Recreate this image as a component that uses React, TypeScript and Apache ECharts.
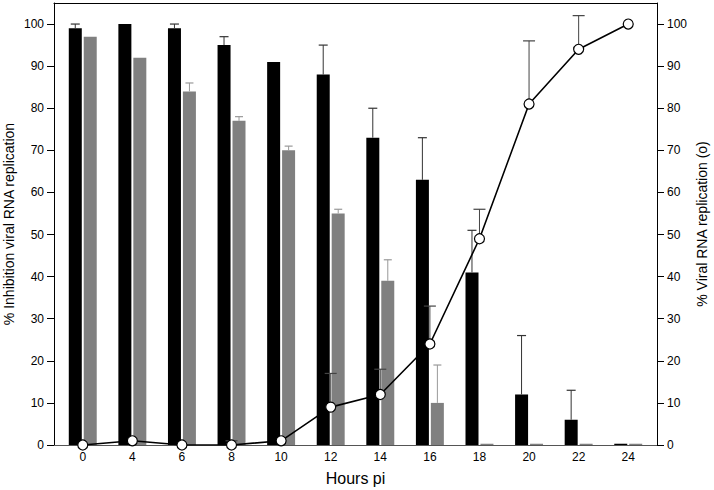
import React, { useEffect, useRef } from "react";
import * as echarts from "echarts";

const hours = ["0", "4", "6", "8", "10", "12", "14", "16", "18", "20", "22", "24"];
// % inhibition (left axis) – black bars
const inhibitionA = [99, 100, 99, 95, 91, 88, 73, 63, 41, 12, 6, 0.3];
const inhibitionAErrTop = [100, null, 100, 97, null, 95, 80, 73, 51, 26, 13, null];
// % inhibition (left axis) – gray bars
const inhibitionB = [97, 92, 84, 77, 70, 55, 39, 10, 0.3, 0.3, 0.3, 0.3];
const inhibitionBErrTop = [null, null, 86, 78, 71, 56, 44, 19, null, null, null, null];
// % viral RNA replication (right axis) – line with open circles
const replication = [0, 1, 0, 0, 1, 9, 12, 24, 49, 81, 94, 100];
const replicationErrTop = [null, null, null, 1, null, 17, 18, 33, 56, 96, 102, null];
const yTicks = [0, 10, 20, 30, 40, 50, 60, 70, 80, 90, 100];

const FONT = "Liberation Sans, Arial, sans-serif";

function errData(vals: number[], tops: (number | null)[]) {
  const out: number[][] = [];
  vals.forEach((v, i) => {
    const t = tops[i];
    if (t != null) out.push([i, v, t]);
  });
  return out;
}

function makeErrRender(offset: number, cap: number, color: string) {
  return (params: any, api: any) => {
    const x = api.value(0);
    const v = api.value(1);
    const t = api.value(2);
    const p0 = api.coord([x, v]);
    const p1 = api.coord([x, t]);
    const cx = p0[0] + offset;
    return {
      type: "group",
      children: [
        {
          type: "line",
          shape: { x1: cx, y1: p0[1], x2: cx, y2: p1[1] },
          style: { stroke: color, lineWidth: 1 },
        },
        {
          type: "line",
          shape: { x1: cx - cap / 2, y1: p1[1], x2: cx + cap / 2, y2: p1[1] },
          style: { stroke: color, lineWidth: 1.2 },
        },
      ],
    };
  };
}

export default function App() {
  const ref = useRef<HTMLDivElement>(null);

  useEffect(() => {
    if (!ref.current) return;
    const chart = echarts.init(ref.current, undefined, { renderer: "svg" });
    const idx = hours.map((_, i) => i);

    const yAxisCommon = {
      type: "value",
      min: 0,
      max: 105,
      splitLine: { show: false },
      axisLine: { show: true, onZero: false, lineStyle: { color: "#000", width: 1 } },
      axisTick: { show: true, length: 7, customValues: yTicks, lineStyle: { color: "#000" } },
      axisLabel: { customValues: yTicks, color: "#000", fontSize: 12, fontFamily: FONT, margin: 10 },
      nameLocation: "middle",
      nameRotate: 90,
      nameMoveOverlap: false,
      nameTextStyle: { color: "#000", fontSize: 14, fontFamily: FONT },
    };

    chart.setOption({
      animation: false,
      backgroundColor: "#fff",
      grid: { left: 54, right: 57, top: 3, bottom: 45, containLabel: false, outerBoundsMode: "none" },
      xAxis: [
        {
          type: "value",
          min: -0.58,
          max: 11.58,
          splitLine: { show: false },
          axisLine: { show: true, onZero: false, lineStyle: { color: "#555", width: 1 } },
          axisTick: { show: false },
          axisLabel: {
            customValues: idx,
            formatter: (v: number) => hours[Math.round(v)] ?? "",
            color: "#000",
            fontSize: 12,
            fontFamily: FONT,
            margin: 6,
          },
          name: "Hours pi",
          nameLocation: "middle",
          nameGap: 25,
          nameMoveOverlap: false,
          nameTextStyle: { color: "#000", fontSize: 16, fontFamily: FONT },
        },
        {
          type: "value",
          position: "top",
          min: -0.58,
          max: 11.58,
          splitLine: { show: false },
          axisLine: { show: true, onZero: false, lineStyle: { color: "#000", width: 1 } },
          axisTick: { show: false },
          axisLabel: { show: false },
        },
      ],
      yAxis: [
        { ...yAxisCommon, position: "left", nameGap: 38, name: "% Inhibition viral RNA replication" },
        { ...yAxisCommon, position: "right", nameGap: 38, name: "% Viral RNA replication (o)" },
      ],
      series: [
        {
          type: "bar",
          xAxisIndex: 0,
          yAxisIndex: 0,
          data: inhibitionA.map((v, i) => [i, v]),
          barWidth: 13,
          barGap: "15%",
          itemStyle: { color: "#000" },
          z: 2,
        },
        {
          type: "bar",
          xAxisIndex: 0,
          yAxisIndex: 0,
          data: inhibitionB.map((v, i) => [i, v]),
          barWidth: 13,
          barGap: "15%",
          itemStyle: { color: "#808080" },
          z: 2,
        },
        {
          type: "custom",
          xAxisIndex: 0,
          yAxisIndex: 0,
          data: errData(inhibitionA, inhibitionAErrTop),
          renderItem: makeErrRender(-7.5, 9, "#333"),
          z: 3,
          silent: true,
        },
        {
          type: "custom",
          xAxisIndex: 0,
          yAxisIndex: 0,
          data: errData(inhibitionB, inhibitionBErrTop),
          renderItem: makeErrRender(7.5, 8, "#999"),
          z: 3,
          silent: true,
        },
        {
          type: "custom",
          xAxisIndex: 0,
          yAxisIndex: 1,
          data: errData(replication, replicationErrTop),
          renderItem: makeErrRender(0, 12, "#444"),
          z: 4,
          silent: true,
        },
        {
          type: "line",
          xAxisIndex: 0,
          yAxisIndex: 1,
          data: replication.map((v, i) => [i, v]),
          symbol: "circle",
          symbolSize: 10,
          showAllSymbol: true,
          lineStyle: { color: "#000", width: 1.6 },
          itemStyle: { color: "#fff", borderColor: "#000", borderWidth: 1.2 },
          z: 5,
        },
      ],
    });

    return () => chart.dispose();
  }, []);

  return <div ref={ref} style={{ width: 714, height: 490, position: "absolute", left: 0, top: 0 }} />;
}
